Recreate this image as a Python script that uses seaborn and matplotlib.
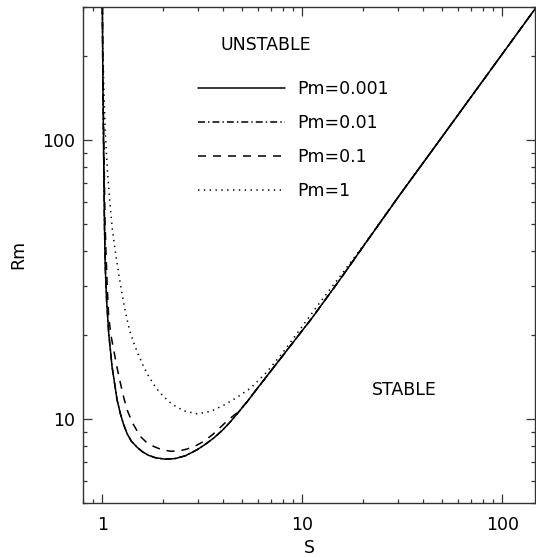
import matplotlib
matplotlib.use("Agg")

import matplotlib.pyplot as plt
import numpy as np
import pandas as pd
import seaborn as sns
from matplotlib.ticker import FixedLocator, LogLocator, NullFormatter

# values, one curve per magnetic Prandtl number
PM_LABELS = ["Pm=0.001", "Pm=0.01", "Pm=0.1", "Pm=1"]

S_PM0001 = [1.0, 1.0046, 1.0116, 1.0233, 1.0328, 1.0495, 1.0752, 1.118, 1.1842, 1.2303,
            1.2779, 1.3335, 1.3964, 1.4913, 1.5849, 1.6982, 1.8408, 2.0654, 2.3174, 2.6002,
            2.9751, 3.2734, 3.6017, 3.9811, 4.3652, 4.7863, 5.2905, 5.9566, 6.7842, 8.7096,
            11.179, 15.488, 21.063, 30.903, 45.36, 147.91]
RM_PM0001 = [300, 178.2, 108.6, 51.69, 35.64, 26.70, 20.33, 15.36, 11.70, 10.42,
             9.517, 8.799, 8.309, 7.905, 7.617, 7.400, 7.249, 7.160, 7.201, 7.369,
             7.743, 8.102, 8.527, 9.095, 9.755, 10.55, 11.506, 12.865, 14.50, 18.27,
             23.01, 31.75, 43.45, 64.03, 93.38, 300]

# Pm=0.01 lies on top of Pm=0.001 in the reference
S_PM001 = [1.0, 1.0046, 1.0116, 1.0233, 1.0328, 1.0495, 1.0752, 1.118, 1.1842, 1.2303,
           1.2779, 1.3335, 1.3964, 1.4913, 1.5849, 1.6982, 1.8408, 2.0654, 2.3174, 2.6002,
           2.9751, 3.2734, 3.6017, 3.9811, 4.3652, 4.7863, 5.2905, 5.9566, 6.7842, 8.7096,
           11.179, 15.488, 21.063, 30.903, 45.36, 147.91]
RM_PM001 = [300, 178.2, 108.6, 51.69, 35.64, 26.70, 20.33, 15.36, 11.70, 10.42,
            9.517, 8.799, 8.309, 7.905, 7.617, 7.400, 7.249, 7.165, 7.205, 7.369,
            7.743, 8.102, 8.527, 9.095, 9.755, 10.55, 11.506, 12.865, 14.50, 18.27,
            23.01, 31.75, 43.45, 64.03, 93.38, 300]

S_PM01 = [1.0, 1.0058, 1.0151, 1.0304, 1.0411, 1.0593, 1.0752, 1.1028, 1.1389, 1.1817,
          1.2303, 1.2779, 1.3289, 1.4125, 1.5488, 1.6596, 1.8048, 1.9724, 2.1878, 2.3988,
          2.6516, 2.9174, 3.2101, 3.5481, 3.8905, 4.2658, 4.7152, 5.2905, 5.9566, 6.7842,
          8.7096, 11.179, 15.488, 21.063, 30.903, 45.36, 147.91]
RM_PM01 = [300, 178.2, 108.6, 51.69, 40.34, 29.00, 23.26, 20.00, 17.67, 15.36,
           13.43, 11.94, 10.77, 9.675, 8.640, 8.238, 7.957, 7.756, 7.648, 7.661,
           7.789, 7.990, 8.293, 8.763, 9.322, 9.918, 10.51, 11.506, 12.865, 14.50,
           18.27, 23.01, 31.75, 43.45, 64.03, 93.38, 300]

S_PM1 = [1.0, 1.0035, 1.0174, 1.0351, 1.0593, 1.0876, 1.1220, 1.1707, 1.2088, 1.2779,
         1.3262, 1.3804, 1.4913, 1.6087, 1.6982, 1.8048, 1.9055, 2.0184, 2.2313, 2.5500,
         2.9751, 3.4674, 4.0411, 4.7152, 5.4954, 6.6604, 8.0353, 9.7724, 12.303, 15.488,
         21.063, 30.903, 45.36, 147.91]
RM_PM1 = [300, 228.3, 151.1, 104.2, 78.07, 60.96, 47.59, 38.16, 32.82, 25.98,
          22.83, 20.28, 17.39, 15.36, 14.26, 13.29, 12.60, 12.04, 11.27, 10.68,
          10.42, 10.62, 11.18, 11.94, 12.86, 14.74, 17.39, 21.02, 26.27, 32.55,
          43.63, 64.03, 93.38, 300]

X_TICKS = [1, 10, 100]
X_TICK_LABELS = ["1", "10", "100"]
Y_TICKS = [10, 100]
Y_TICK_LABELS = ["10", "100"]


def build_frame() -> pd.DataFrame:
    parts = []
    for label, s, rm in zip(PM_LABELS, [S_PM0001, S_PM001, S_PM01, S_PM1],
                            [RM_PM0001, RM_PM001, RM_PM01, RM_PM1]):
        parts.append(pd.DataFrame({"S": s, "Rm": rm, "Pm": label}))
    return pd.concat(parts, ignore_index=True)


def main() -> None:
    sns.set_theme(style="ticks")
    plt.rcParams["font.family"] = ["DejaVu Sans"]
    plt.rcParams["lines.scale_dashes"] = False
    for key in ("text.color", "axes.labelcolor", "xtick.labelcolor", "ytick.labelcolor"):
        plt.rcParams[key] = "black"
    fs = 12.5

    df = build_frame()

    fig = plt.figure(figsize=(5.36, 5.57), dpi=100)
    W, H = 536, 557
    left, right, top, bottom = 83, 535, 7, 502.7
    ax = fig.add_axes([left / W, (H - bottom) / H, (right - left) / W, (bottom - top) / H])
    ax.set_xscale("log")
    ax.set_yscale("log")

    dashes = {
        "Pm=0.001": "",
        "Pm=0.01": (5.0, 2.2, 1.0, 2.2),
        "Pm=0.1": (5.8, 5.0),
        "Pm=1": (1.0, 3.2),
    }
    sns.lineplot(data=df, x="S", y="Rm", style="Pm", style_order=PM_LABELS,
                 dashes=dashes, color="black", linewidth=1.1, estimator=None,
                 sort=False, ax=ax)

    ax.set_xlim(0.8, 145.5)
    ax.set_ylim(5, 300)

    axis_col = "#333333"
    for sp in ax.spines.values():
        sp.set_color(axis_col)
        sp.set_linewidth(1.0)

    ax.xaxis.set_major_locator(FixedLocator(X_TICKS))
    ax.set_xticklabels(X_TICK_LABELS)
    ax.yaxis.set_major_locator(FixedLocator(Y_TICKS))
    ax.set_yticklabels(Y_TICK_LABELS)
    for a in (ax.xaxis, ax.yaxis):
        a.set_minor_locator(LogLocator(base=10, subs=np.arange(2, 10)))
        a.set_minor_formatter(NullFormatter())

    ax.tick_params(which="both", direction="in", top=True, right=True,
                   color=axis_col, width=0.9, labelsize=fs, labelcolor="black")
    ax.tick_params(which="major", length=6.5)
    ax.tick_params(which="minor", length=3.1)
    ax.tick_params(axis="x", which="major", pad=9.5)
    ax.tick_params(axis="y", which="major", pad=5.8)

    ax.set_xlabel("S", fontsize=fs, labelpad=4, color="black")
    ax.set_ylabel("Rm", fontsize=fs, labelpad=10.5, color="black")

    ax.text(0.405, 0.9125, "UNSTABLE", transform=ax.transAxes, ha="center",
            va="baseline", fontsize=fs, color="black")
    ax.text(0.710, 0.2173, "STABLE", transform=ax.transAxes, ha="center",
            va="baseline", fontsize=fs, color="black")

    handles, labels = ax.get_legend_handles_labels()
    for h in handles:
        h.set_color("black")
        h.set_linewidth(1.1)
    leg = ax.legend(handles, labels, loc="upper left", bbox_to_anchor=(0.255, 0.853),
                    frameon=False, fontsize=fs, handlelength=5.0, handletextpad=0.7,
                    labelspacing=0.92, borderpad=0, borderaxespad=0)
    for t in leg.get_texts():
        t.set_color("black")

    fig.savefig("out.png", dpi=100, facecolor="white")
    plt.close(fig)


if __name__ == "__main__":
    main()
